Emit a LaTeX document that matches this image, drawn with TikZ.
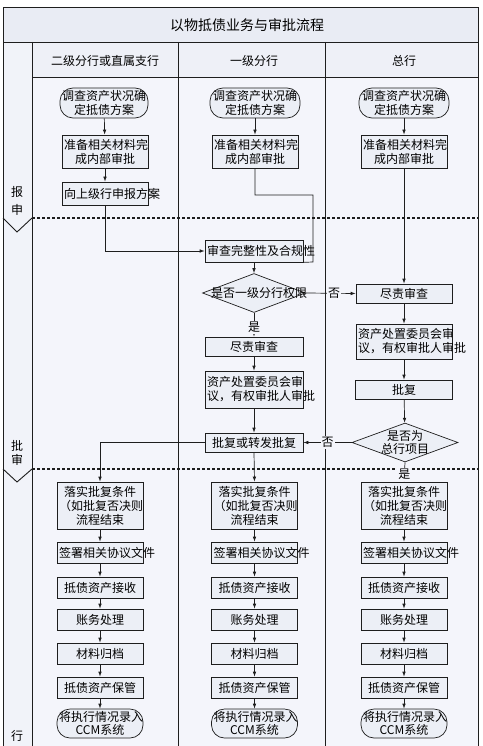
\documentclass[tikz,border=0pt]{standalone}
\usepackage{fontspec}
\setmainfont{Noto Sans CJK SC}
\usetikzlibrary{arrows.meta,shapes.geometric}
\definecolor{lanebg}{HTML}{F4F5FB}
\definecolor{hdrbg}{HTML}{EEF0F7}
\definecolor{titlebg}{HTML}{E9ECF4}
\definecolor{leftbg}{HTML}{F1F3F9}
\definecolor{boxfill}{HTML}{ECEFF6}
\definecolor{linec}{HTML}{1E1E1E}
\begin{document}
\begin{tikzpicture}[x=1pt,y=-1pt,
  every node/.style={font=\fontsize{12}{14}\selectfont, text=black},
  frame/.style={draw=linec, line width=0.9pt},
  phase/.style={draw=linec, line width=2.6pt, dash pattern=on 3pt off 2pt},
  proc/.style={draw=linec, fill=boxfill, line width=0.7pt, inner xsep=2pt, inner ysep=0pt, align=center, text width=#1},
  stad/.style={proc=#1, rounded corners=13pt},
  dec/.style={diamond, draw=linec, fill=boxfill, line width=0.7pt, inner sep=0pt},
  conn/.style={draw=linec, line width=0.7pt, -{Latex[length=5pt,width=3.6pt]}},
  link/.style={draw=linec, line width=0.7pt},
  lbl/.style={fill=lanebg, inner sep=1pt},
  plain/.style={inner sep=0pt}
]
\useasboundingbox (0,0) rectangle (482,746);
\clip (0,0) rectangle (482,746);
% backgrounds
\fill[white] (0,0) rectangle (482,746);
\fill[titlebg] (3,7) rectangle (478,42);
\fill[hdrbg] (32,42) rectangle (478,77);
\fill[lanebg] (32,77) rectangle (478,770);
\fill[leftbg] (3,42) rectangle (32,770);
% frame
\draw[frame] (3,770) -- (3,7) -- (478,7) -- (478,770);
\draw[frame] (3,42) -- (478,42);
\draw[frame] (32,77) -- (478,77);
\draw[frame] (32,42) -- (32,770);
\draw[frame] (178,42) -- (178,770);
\draw[frame] (325,42) -- (325,770);
% phase separators
\draw[phase] (32,218) -- (478,218);
\draw[phase] (32,469) -- (478,469);
\draw[frame] (3,218) -- (17,232) -- (32,218);
\draw[frame] (3,469) -- (17,482) -- (32,469);
% titles
\node[plain, font=\fontsize{14}{16}\selectfont] (title) at (247,25) {以物抵债业务与审批流程};
\node[plain] (h1) at (105,61) {二级分行或直属支行};
\node[plain] (h2) at (254,61) {一级分行};
\node[plain] (h3) at (404,61) {总行};
% phase labels
\node[plain] (p1a) at (17,192) {报};
\node[plain] (p1b) at (17,210) {申};
\node[plain] (p2a) at (17,446) {批};
\node[plain] (p2b) at (17,460) {审};
\node[plain] (p3a) at (17,736) {行};
% upper part
\node[stad=84pt, minimum height=30pt] (a1) at (104,103) {调查资产状况确\\定抵债方案};
\node[stad=86pt, minimum height=30pt] (a2) at (255,103) {调查资产状况确\\定抵债方案};
\node[stad=86pt, minimum height=30pt] (a3) at (404,103) {调查资产状况确\\定抵债方案};
\node[proc=82pt, minimum height=33pt] (b1) at (105,151.5) {准备相关材料完\\成内部审批};
\node[proc=82pt, minimum height=33pt] (b2) at (255,151.5) {准备相关材料完\\成内部审批};
\node[proc=82pt, minimum height=33pt] (b3) at (404,151.5) {准备相关材料完\\成内部审批};
\node[proc=82pt, minimum height=23pt] (c1) at (105,193.5) {向上级行申报方案};
\draw[conn] (a1) -- (b1);
\draw[conn] (a2) -- (b2);
\draw[conn] (a3) -- (b3);
\draw[conn] (b1) -- (c1);
% review
\node[proc=94pt, minimum height=22pt] (r) at (254,251) {审查完整性及合规性};
\coordinate (k1) at (313,195);
\coordinate (k2) at (313,262);
\draw[conn] (c1.south) |- (r.west);
\draw[link] (b2.south) |- (k1) -- (k2) -- (r.south east);
% decision 1
\node[dec, minimum width=103pt, minimum height=39pt] (d1) at (254,293) {};
\node[plain] (d1t) at (259,293) {是否一级分行权限};
\draw[conn] (r.south) -- (d1.north);
\node[proc=92pt, minimum height=19pt] (s3) at (404,293.5) {尽责审查};
\draw[conn] (d1.east) -- (s3.west) node[lbl, pos=0.57] (no1) {否};
\draw[conn] (b3.south) -- (s3.north);
\node[proc=94pt, minimum height=19pt] (s2) at (254,346.5) {尽责审查};
\draw[conn] (d1.south) -- (s2.north) node[lbl, pos=0.62] (yes1) {是};
\node[proc=94pt, minimum height=37pt] (q2) at (254,389.5) {资产处置委员会审\\议，有权审批人审批};
\node[proc=92pt, minimum height=35pt] (q3) at (404,341.5) {资产处置委员会审\\议，有权审批人审批};
\node[proc=93pt, minimum height=19pt] (f3) at (404,389.5) {批复};
\node[dec, minimum width=106pt, minimum height=39pt] (d2) at (405,442.5) {};
\node[plain, align=center, font=\fontsize{12}{13}\selectfont] (d2t) at (405,442.5) {是否为\\总行项目};
\node[proc=94pt, minimum height=19pt] (t2) at (254,442.5) {批复或转发批复};
\draw[conn] (s2) -- (q2);
\draw[conn] (q2) -- (t2);
\draw[conn] (s3) -- (q3);
\draw[conn] (q3) -- (f3);
\draw[conn] (f3) -- (d2);
\draw[conn] (d2.west) -- (t2.east) node[lbl, pos=0.5] (no2) {否};
% lower part
\foreach \c/\x in {1/100,2/254.5,3/404}{
  \node[proc=82pt, minimum height=47pt] (g\c) at (\x,505.5) {落实批复条件\\（如批复否决则\\流程结束};
  \node[proc=82pt, minimum height=21pt] (h\c) at (\x,552.5) {签署相关协议文件};
  \node[proc=82pt, minimum height=21pt] (i\c) at (\x,587.5) {抵债资产接收};
  \node[proc=82pt, minimum height=21pt] (j\c) at (\x,619.5) {账务处理};
  \node[proc=82pt, minimum height=21pt] (k\c) at (\x,653.5) {材料归档};
  \node[proc=82pt, minimum height=21pt] (m\c) at (\x,687.5) {抵债资产保管};
  \node[stad=82pt, minimum height=29pt, font=\fontsize{12}{13}\selectfont] (n\c) at (\x,723.5) {将执行情况录入\\CCM系统};
  \draw[conn] (g\c) -- (h\c);
  \draw[conn] (h\c) -- (i\c);
  \draw[conn] (i\c) -- (j\c);
  \draw[conn] (j\c) -- (k\c);
  \draw[conn] (k\c) -- (m\c);
  \draw[conn] (m\c) -- (n\c);
}
\draw[conn] (t2.west) -| (g1.north);
\draw[conn] (t2.south) -- (g2.north);
\draw[conn] (d2.south) -- (g3.north) node[lbl, pos=0.62] (yes2) {是};
\end{tikzpicture}
\end{document}
